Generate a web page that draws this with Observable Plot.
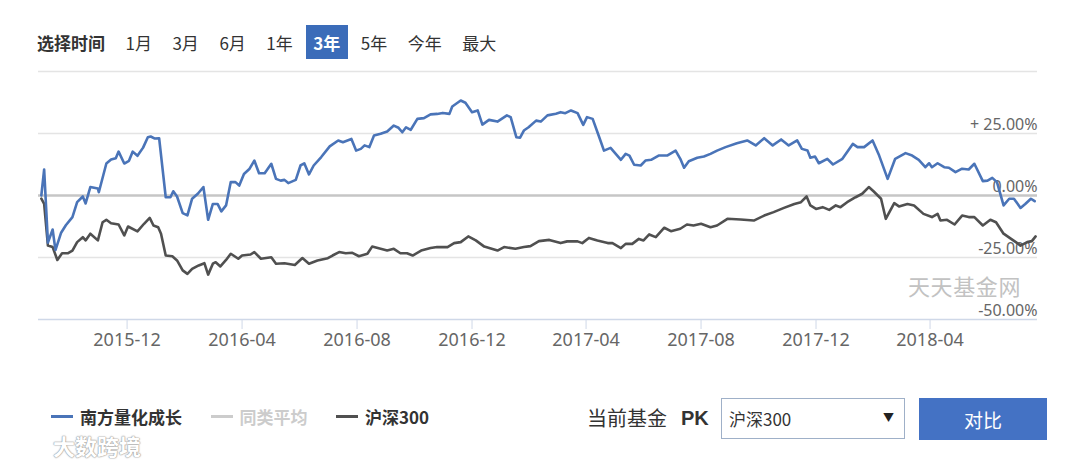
<!DOCTYPE html>
<html><head><meta charset="utf-8">
<script src="https://cdn.jsdelivr.net/npm/d3@7"></script>
<script src="https://cdn.jsdelivr.net/npm/@observablehq/plot@0.6"></script>
<style>
html,body{margin:0;padding:0;background:#fff;}
#wrap{position:relative;width:1080px;height:464px;overflow:hidden;font-family:"Noto Sans CJK SC","Noto Sans",sans-serif;color:#333;}
.abs{position:absolute;white-space:nowrap;line-height:1;}
#topbar{position:absolute;left:37px;top:25px;height:34px;display:flex;align-items:center;font-size:17px;}
#topbar .lbl{font-weight:bold;margin-right:13px;color:#333;}
#topbar .opt{height:34px;display:flex;align-items:center;padding:0 7.5px;margin-right:5.5px;color:#333;}
#topbar .opt.on{background:#3b6cb9;color:#fff;font-weight:bold;}
#chart{position:absolute;left:0;top:60px;}
#legend{position:absolute;left:51px;top:405px;height:22px;display:flex;align-items:center;font-size:17px;font-weight:bold;}
#legend .item{display:flex;align-items:center;margin-right:28.5px;}
#legend .sw{display:inline-block;width:22px;height:3px;margin-right:7px;}
#wm{left:908px;top:274px;font-size:22px;color:#c2c2c2;letter-spacing:0.6px;}
#wm2{left:53px;top:434px;font-size:22px;color:#fff;font-weight:bold;text-shadow:0 0 1px #999,0 0 1px #999,0 0 2px #aaa;}
#cur{left:587px;top:408px;font-size:20px;color:#333;}
#pk{left:681px;top:408px;font-size:20px;font-weight:bold;color:#333;font-family:"Liberation Sans","Noto Sans",sans-serif;}
#sel{left:721px;top:398px;width:182px;height:39px;border:1px solid #9fb0c8;background:#fff;}
#sel .t{position:absolute;left:7px;top:11px;font-size:17px;color:#333;line-height:1;}
#sel .a{position:absolute;right:10px;top:13px;font-size:11px;color:#222;line-height:1;}
#btn{left:919px;top:398px;width:128px;height:42px;background:#4472c4;color:#fff;font-size:19px;display:flex;align-items:center;justify-content:center;}
</style></head><body>
<div id="wrap">
  <div id="topbar"></div>
  <div id="chart"></div>
  <div class="abs" id="wm"></div>
  <div id="legend"></div>
  <div class="abs" id="wm2"></div>
  <div class="abs" id="cur"></div>
  <div class="abs" id="pk"></div>
  <div class="abs" id="sel"><span class="t"></span><span class="a">▼</span></div>
  <div class="abs" id="btn"></div>
</div>
<script>
// ---------- data ----------
const rangeLabel = "选择时间";
const rangeOptions = ["1月","3月","6月","1年","3年","5年","今年","最大"];
const activeRange = "3年";
const seriesNames = ["南方量化成长","同类平均","沪深300"];
const seriesColors = ["#4a74b8","#cccccc","#505050"];
const seriesHidden = [false,true,false];
const watermark = "天天基金网";
const siteMark = "大数跨境";
const compareLabel = "当前基金";
const pkLabel = "PK";
const compareTarget = "沪深300";
const compareButton = "对比";

const yTicks = [-50,-25,0,25,50];
const yTickLabels = ["-50.00%","-25.00%","0.00%","+ 25.00%",""];
const xTicks = ["2015-12-01","2016-04-01","2016-08-01","2016-12-01","2017-04-01","2017-08-01","2017-12-01","2018-04-01"];
const xDomain = ["2015-08-29","2018-07-24"];

const fundDates = ["2015-09-01","2015-09-04","2015-09-08","2015-09-13","2015-09-16","2015-09-22","2015-09-27","2015-10-04","2015-10-09","2015-10-15","2015-10-18","2015-10-23","2015-10-31","2015-11-01","2015-11-09","2015-11-14","2015-11-19","2015-11-22","2015-11-28","2015-12-03","2015-12-07","2015-12-12","2015-12-18","2015-12-23","2015-12-26","2015-12-30","2016-01-04","2016-01-11","2016-01-16","2016-01-19","2016-01-23","2016-01-29","2016-02-03","2016-02-08","2016-02-14","2016-02-20","2016-02-25","2016-03-01","2016-03-06","2016-03-10","2016-03-15","2016-03-20","2016-03-25","2016-03-29","2016-04-03","2016-04-09","2016-04-14","2016-04-19","2016-04-25","2016-05-02","2016-05-07","2016-05-12","2016-05-16","2016-05-20","2016-05-28","2016-06-02","2016-06-06","2016-06-11","2016-06-16","2016-06-24","2016-07-03","2016-07-12","2016-07-17","2016-07-26","2016-07-31","2016-08-05","2016-08-09","2016-08-14","2016-08-19","2016-08-26","2016-09-02","2016-09-09","2016-09-14","2016-09-18","2016-09-22","2016-09-27","2016-10-04","2016-10-11","2016-10-18","2016-10-25","2016-10-31","2016-11-07","2016-11-10","2016-11-19","2016-11-24","2016-12-01","2016-12-07","2016-12-12","2016-12-19","2016-12-28","2017-01-07","2017-01-11","2017-01-17","2017-01-21","2017-01-25","2017-01-30","2017-02-07","2017-02-12","2017-02-19","2017-02-28","2017-03-05","2017-03-10","2017-03-16","2017-03-23","2017-03-29","2017-04-02","2017-04-08","2017-04-15","2017-04-20","2017-04-27","2017-05-08","2017-05-13","2017-05-17","2017-05-22","2017-05-29","2017-06-03","2017-06-09","2017-06-17","2017-06-26","2017-07-05","2017-07-10","2017-07-14","2017-07-19","2017-07-28","2017-08-04","2017-08-11","2017-08-18","2017-08-27","2017-09-08","2017-09-19","2017-09-28","2017-10-07","2017-10-16","2017-10-25","2017-11-02","2017-11-11","2017-11-16","2017-11-22","2017-11-25","2017-11-30","2017-12-04","2017-12-13","2017-12-19","2017-12-29","2018-01-09","2018-01-14","2018-01-21","2018-01-30","2018-02-06","2018-02-15","2018-02-23","2018-03-06","2018-03-13","2018-03-20","2018-03-27","2018-03-31","2018-04-03","2018-04-09","2018-04-16","2018-04-21","2018-04-28","2018-05-05","2018-05-12","2018-05-18","2018-05-27","2018-06-01","2018-06-06","2018-06-11","2018-06-18","2018-06-24","2018-06-29","2018-07-06","2018-07-11","2018-07-17","2018-07-21"];
const fundValues = [0,10.5,-19,-13.7,-22,-15,-12,-8.7,-2.7,-0.4,-3.2,3.4,2.8,1.3,12.9,14.5,15,17.7,12.9,14,17.7,16,19.3,23.5,23.8,23,23.1,-0.7,-0.7,1.7,-0.4,-7.1,-8,-1.3,0.7,3.4,-9.8,-3.4,-3.4,-6.4,-4,5.4,5.4,4,8.7,10.8,14.1,9,9,12.8,6.7,6,6.3,5,6.3,12.1,13,8.5,12.1,15.5,19.8,22.2,21.5,22.8,18.1,18.8,20.2,19.5,24.2,24.9,25.8,28.2,27.3,25.5,27.5,26.5,30.9,31.2,32.7,32.9,33.3,32.9,35.9,38.3,37.4,33.6,34.3,28.6,30.5,29.8,32.3,31.6,23.5,23.3,26.2,27.5,30.2,29.8,32.3,33,33.6,33.2,34.3,33.2,28.5,31.6,30.9,23.5,18.1,19.2,14.4,16.8,16.1,12.4,12.1,14.1,14.4,16.1,16.1,18.1,14.8,11.2,13.8,15.2,15.7,16.8,18.1,19.5,21.1,22.2,20.2,23.1,20.2,22.6,20.2,22.2,18.8,18.1,15.2,15.7,13,14.8,12.5,14.8,20.8,19.5,19.5,22.2,16.1,6.7,14.8,17.1,16.1,14.4,11.4,13,11.4,13,11.4,11.2,9.4,10.8,10.5,12.8,5.8,6,7.1,5.4,-4,-1.3,-1.3,-5,-3.4,-1.3,-2.3];

const hs300Dates = ["2015-09-01","2015-09-04","2015-09-08","2015-09-13","2015-09-18","2015-09-23","2015-09-29","2015-10-04","2015-10-09","2015-10-15","2015-10-18","2015-10-23","2015-10-31","2015-11-05","2015-11-09","2015-11-14","2015-11-22","2015-11-28","2015-12-02","2015-12-12","2015-12-19","2015-12-25","2015-12-29","2016-01-03","2016-01-06","2016-01-11","2016-01-18","2016-01-23","2016-01-29","2016-02-03","2016-02-08","2016-02-15","2016-02-21","2016-02-25","2016-03-01","2016-03-04","2016-03-09","2016-03-15","2016-03-20","2016-03-28","2016-04-01","2016-04-10","2016-04-14","2016-04-21","2016-05-02","2016-05-07","2016-05-16","2016-05-27","2016-06-04","2016-06-11","2016-06-20","2016-07-01","2016-07-06","2016-07-13","2016-07-20","2016-07-27","2016-08-03","2016-08-12","2016-08-17","2016-08-26","2016-09-02","2016-09-09","2016-09-16","2016-09-23","2016-09-29","2016-10-08","2016-10-18","2016-10-25","2016-11-05","2016-11-12","2016-11-19","2016-11-27","2016-12-05","2016-12-14","2016-12-28","2017-01-04","2017-01-16","2017-01-25","2017-02-01","2017-02-10","2017-02-21","2017-03-05","2017-03-12","2017-03-23","2017-03-28","2017-04-04","2017-04-13","2017-04-24","2017-04-29","2017-05-08","2017-05-13","2017-05-20","2017-05-27","2017-06-01","2017-06-07","2017-06-14","2017-06-23","2017-06-30","2017-07-10","2017-07-17","2017-07-24","2017-08-01","2017-08-11","2017-08-18","2017-08-29","2017-09-12","2017-09-26","2017-10-07","2017-10-17","2017-10-28","2017-11-08","2017-11-15","2017-11-21","2017-11-25","2017-12-01","2017-12-08","2017-12-15","2017-12-22","2017-12-27","2018-01-03","2018-01-12","2018-01-19","2018-01-26","2018-01-31","2018-02-08","2018-02-13","2018-02-22","2018-02-27","2018-03-08","2018-03-15","2018-03-25","2018-04-03","2018-04-09","2018-04-12","2018-04-19","2018-04-27","2018-05-05","2018-05-12","2018-05-18","2018-05-27","2018-06-04","2018-06-10","2018-06-18","2018-06-26","2018-07-01","2018-07-06","2018-07-13","2018-07-18","2018-07-22"];
const hs300Values = [-1.3,-3.4,-20.2,-20.8,-26,-23.3,-23.3,-22.2,-18.8,-16.8,-18.1,-15.4,-18.1,-10.8,-9.8,-11.2,-11.7,-16.1,-12.5,-14.5,-11.4,-9,-12.1,-12.8,-15.4,-24.2,-24.5,-26.2,-30.2,-31.6,-29.6,-28.2,-27.3,-31.9,-27.5,-26.9,-28.6,-26,-23.5,-25.5,-24.2,-23.8,-22.8,-25.5,-24.9,-27.5,-27.3,-28,-25.2,-27.5,-26.2,-25.3,-24.2,-22.8,-23.3,-23.1,-24.5,-23.5,-20.6,-21.5,-22.2,-21.5,-23.3,-23.3,-24.2,-22.2,-21.2,-20.8,-20.8,-19.2,-18.8,-16.5,-18.1,-20.6,-22.2,-20.8,-21.5,-20.8,-20.4,-18.4,-17.9,-19.2,-18.5,-18.5,-19.2,-17.1,-18.1,-19.2,-19.2,-21.2,-19.5,-19.5,-17.5,-18.1,-15.7,-16.8,-13,-14.4,-13.4,-11.7,-12.1,-11.4,-12.8,-12.1,-9.4,-9.7,-10.1,-8.1,-6.7,-5,-3.4,-2.7,-0.4,-4,-5.4,-4.7,-5.8,-4,-4.7,-2.7,-0.7,0.7,3.4,1.7,-1.3,-9.4,-3.1,-4.4,-3.4,-4,-7.4,-8.7,-7.4,-10.1,-9.8,-11.7,-8.1,-8.7,-8.7,-12.1,-9.8,-10.8,-15.4,-17.5,-18.8,-20.2,-18.8,-18.4,-16.5];

// ---------- html parts ----------
const topbar = document.getElementById("topbar");
const lbl = document.createElement("span"); lbl.className = "lbl"; lbl.textContent = rangeLabel; topbar.appendChild(lbl);
rangeOptions.forEach(o => {
  const s = document.createElement("span");
  s.className = "opt" + (o === activeRange ? " on" : "");
  s.textContent = o; topbar.appendChild(s);
});
const legend = document.getElementById("legend");
seriesNames.forEach((n, i) => {
  const it = document.createElement("span"); it.className = "item";
  const sw = document.createElement("span"); sw.className = "sw"; sw.style.background = seriesColors[i];
  const tx = document.createElement("span"); tx.textContent = n; tx.style.color = seriesHidden[i] ? "#cccccc" : "#333";
  it.appendChild(sw); it.appendChild(tx); legend.appendChild(it);
});
document.getElementById("wm").textContent = watermark;
document.getElementById("wm2").textContent = siteMark;
document.getElementById("cur").textContent = compareLabel;
document.getElementById("pk").textContent = pkLabel;
document.querySelector("#sel .t").textContent = compareTarget;
document.getElementById("btn").textContent = compareButton;

// ---------- chart ----------
const fund = fundDates.map((d, i) => ({date: new Date(d), value: fundValues[i]}));
const hs300 = hs300Dates.map((d, i) => ({date: new Date(d), value: hs300Values[i]}));

const chart = Plot.plot({
  width: 1080, height: 300,
  marginLeft: 38, marginRight: 43, marginTop: 11, marginBottom: 41,
  x: {type: "utc", domain: xDomain.map(d => new Date(d))},
  y: {domain: [-50, 50]},
  style: {fontFamily: "'Noto Sans','Noto Sans CJK SC',sans-serif", background: "transparent"},
  marks: [
    Plot.ruleY(yTicks.filter(v => v !== 0 && v !== -50), {stroke: "#e4e4e4", strokeWidth: 1.5}),
    Plot.ruleY([0], {stroke: "#c6c6c6", strokeWidth: 2.5}),
    Plot.ruleY([-50], {stroke: "#cfd8e8", strokeWidth: 1.5}),
    Plot.axisX({ticks: xTicks.map(d => new Date(d)), tickFormat: d3.utcFormat("%Y-%m"), tickSize: 10, tickPadding: 4, stroke: "#cfd8e8", fill: "#666", fontSize: 18, label: null}),
    Plot.axisY({ticks: [], label: null}),
    Plot.text(yTicks, {y: d => d, text: (d, i) => yTickLabels[i], frameAnchor: "right", textAnchor: "end", dy: -9, fill: "#666", fontSize: 16}),
    Plot.line(hs300, {x: "date", y: "value", stroke: seriesColors[2], strokeWidth: 2.6, strokeLinejoin: "round"}),
    Plot.line(fund, {x: "date", y: "value", stroke: seriesColors[0], strokeWidth: 2.6, strokeLinejoin: "round"})
  ]
});
document.getElementById("chart").appendChild(chart);
</script>
</body></html>
